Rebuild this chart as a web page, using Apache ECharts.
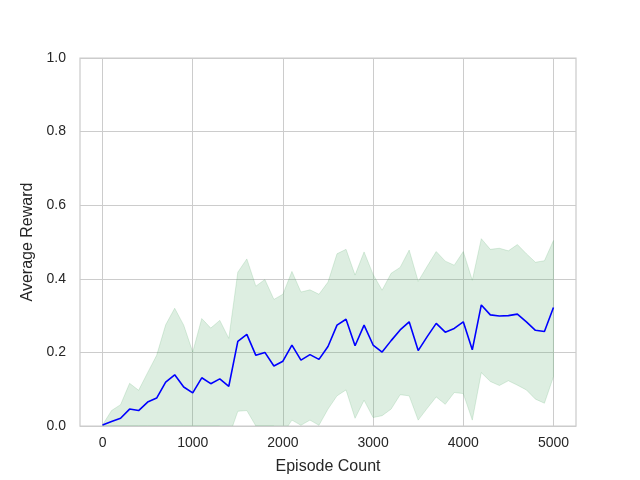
<!DOCTYPE html>
<html>
<head>
<meta charset="utf-8">
<script src="https://cdn.jsdelivr.net/npm/echarts@6.0.0/dist/echarts.min.js"></script>
<style>
  html, body { margin: 0; padding: 0; background: #fff; }
  #chart { width: 640px; height: 480px; }
</style>
</head>
<body>
<div id="chart"></div>
<script>
// episodes (x), mean reward and the shaded band
const episodes = [
  0, 100, 200, 300, 400, 500, 600, 700, 800, 900,
  1000, 1100, 1200, 1300, 1400, 1500, 1600, 1700, 1800, 1900,
  2000, 2100, 2200, 2300, 2400, 2500, 2600, 2700, 2800, 2900,
  3000, 3100, 3200, 3300, 3400, 3500, 3600, 3700, 3800, 3900,
  4000, 4100, 4200, 4300, 4400, 4500, 4600, 4700, 4800, 4900,
  5000,
]
const meanReward = [
  0.003, 0.012, 0.021, 0.046, 0.042, 0.065, 0.076, 0.119, 0.139, 0.106,
  0.090, 0.131, 0.115, 0.128, 0.108, 0.230, 0.249, 0.192, 0.200, 0.163,
  0.176, 0.220, 0.179, 0.194, 0.181, 0.216, 0.274, 0.290, 0.218, 0.274,
  0.220, 0.201, 0.232, 0.261, 0.283, 0.205, 0.243, 0.279, 0.255, 0.265,
  0.283, 0.207, 0.329, 0.302, 0.299, 0.300, 0.304, 0.283, 0.260, 0.257,
  0.322,
]
const upperBand = [
  0.003, 0.042, 0.058, 0.116, 0.097, 0.145, 0.192, 0.275, 0.320, 0.274,
  0.201, 0.292, 0.266, 0.287, 0.238, 0.418, 0.454, 0.380, 0.398, 0.344,
  0.358, 0.420, 0.364, 0.370, 0.358, 0.391, 0.468, 0.480, 0.410, 0.473,
  0.412, 0.369, 0.415, 0.431, 0.478, 0.393, 0.434, 0.474, 0.448, 0.437,
  0.474, 0.396, 0.509, 0.480, 0.483, 0.476, 0.493, 0.468, 0.445, 0.449,
  0.504,
]
const lowerBand = [
  0, 0, 0, 0, 0, 0, 0, 0, 0, 0,
  0, 0, 0, 0, -0.03, 0.040, 0.042, 0, 0, 0,
  -0.02, 0.016, 0.002, 0.016, 0.002, 0.046, 0.082, 0.098, 0.021, 0.070,
  0.023, 0.028, 0.046, 0.085, 0.082, 0.016, 0.048, 0.079, 0.059, 0.091,
  0.088, 0.016, 0.145, 0.121, 0.110, 0.123, 0.111, 0.098, 0.073, 0.062,
  0.134,
]
const xTicks = [0, 1000, 2000, 3000, 4000, 5000]

const textColor = '#262626'
const font = 'Liberation Sans, Arial, sans-serif'
const bandColor = 'rgba(85, 168, 104, 0.2)'

const chart = echarts.init(document.getElementById('chart'))

// one polygon: upper edge left to right, then lower edge back
function renderBand(params, api) {
  if (params.dataIndex !== 0) return null
  const pts = []
  for (let i = 0; i < episodes.length; i++) {
    pts.push(api.coord([episodes[i], upperBand[i]]))
  }
  for (let i = episodes.length - 1; i >= 0; i--) {
    pts.push(api.coord([episodes[i], lowerBand[i]]))
  }
  return {
    type: 'polygon',
    shape: { points: pts },
    style: { fill: bandColor, stroke: bandColor, lineWidth: 1 },
  }
}

const option = {
  animation: false,
  grid: {
    left: 80,
    right: 64,
    top: 58,
    bottom: 53,
    show: true,
    borderColor: '#cccccc',
    borderWidth: 1.25,
  },
  xAxis: {
    type: 'value',
    min: -250,
    max: 5250,
    name: 'Episode Count',
    nameLocation: 'middle',
    nameGap: 33,
    nameTextStyle: { fontSize: 16, color: textColor, fontFamily: font },
    axisLine: { show: false, onZero: false },
    axisTick: { show: false, customValues: xTicks },
    axisLabel: {
      customValues: xTicks,
      fontSize: 14,
      color: textColor,
      fontFamily: font,
      margin: 10,
      formatter: (v) => String(v),
    },
    splitLine: { show: true, lineStyle: { color: '#cccccc', width: 1 } },
  },
  yAxis: {
    type: 'value',
    min: 0,
    max: 1,
    interval: 0.2,
    name: 'Average Reward',
    nameLocation: 'middle',
    nameGap: 37,
    nameTextStyle: { fontSize: 16, color: textColor, fontFamily: font },
    axisLine: { show: false, onZero: false },
    axisTick: { show: false },
    axisLabel: {
      fontSize: 14,
      color: textColor,
      fontFamily: font,
      margin: 14,
      formatter: (v) => v.toFixed(1),
    },
    splitLine: { show: true, lineStyle: { color: '#cccccc', width: 1 } },
  },
  series: [
    {
      type: 'custom',
      renderItem: renderBand,
      clip: true,
      data: episodes.map((x, i) => [x, lowerBand[i], upperBand[i]]),
      encode: { x: 0, y: [1, 2] },
      z: 2,
    },
    {
      type: 'line',
      data: episodes.map((x, i) => [x, meanReward[i]]),
      showSymbol: false,
      lineStyle: { color: '#0000ff', width: 1.6 },
      z: 3,
    },
  ],
}

chart.setOption(option)
</script>
</body>
</html>
